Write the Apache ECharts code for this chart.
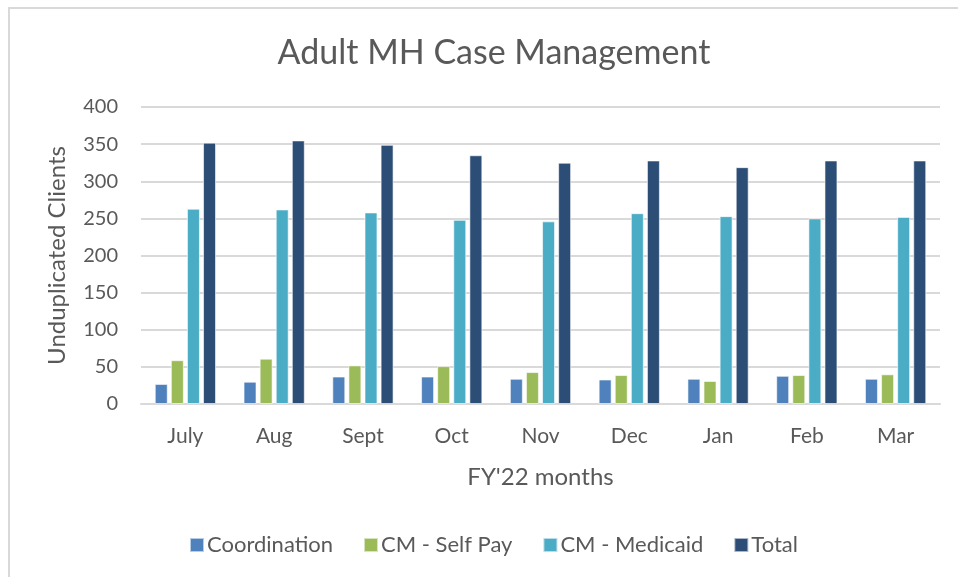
<!DOCTYPE html>
<html>
<head>
<meta charset="utf-8">
<style>
  html, body { margin: 0; padding: 0; background: #fff; }
  #chart { width: 958px; height: 577px; }
</style>
<script src="https://cdn.jsdelivr.net/npm/echarts@6/dist/echarts.min.js"></script>
</head>
<body>
<div id="chart"></div>
<script>
// data
const months = ['July', 'Aug', 'Sept', 'Oct', 'Nov', 'Dec', 'Jan', 'Feb', 'Mar']
const coordination = [27, 30, 37, 37, 34, 33, 34, 38, 34]
const selfPay = [59, 61, 52, 51, 43, 39, 31, 39, 40]
const medicaid = [263, 262, 258, 248, 246, 257, 253, 250, 252]
const total = [352, 355, 349, 335, 325, 328, 319, 328, 328]

const font = 'Lato, "Open Sans", sans-serif'
const textColor = '#595959'

const chart = echarts.init(document.getElementById('chart'))

function bar(name, data, color) {
  return {
    name: name,
    type: 'bar',
    data: data,
    barGap: '24%',
    barCategoryGap: '31%',
    itemStyle: {
      color: color,
      borderColor: 'rgba(255,255,255,0.6)',
      borderWidth: 1
    }
  }
}

chart.setOption({
  animation: false,
  textStyle: { fontFamily: font },
  title: {
    text: 'Adult MH Case Management',
    left: 489,
    top: 31,
    textAlign: 'center',
    textStyle: {
      fontFamily: font,
      fontSize: 34,
      fontWeight: 'normal',
      color: textColor
    }
  },
  graphic: [{
    type: 'rect',
    shape: { x: 9, y: 8, width: 1000, height: 1000 },
    style: { fill: 'none', stroke: '#d9d9d9', lineWidth: 2 },
    silent: true
  }],
  grid: {
    left: 141,
    right: 18,
    top: 107,
    bottom: 173
  },
  legend: {
    bottom: 16,
    left: 184,
    itemWidth: 14,
    itemHeight: 14,
    itemGap: 30,
    icon: 'rect',
    textStyle: { fontFamily: font, fontSize: 22, color: textColor, padding: [0, 0, 0, -2] }
  },
  xAxis: {
    type: 'category',
    data: months,
    name: "FY'22 months",
    nameLocation: 'middle',
    nameGap: 61,
    nameTextStyle: { fontFamily: font, fontSize: 24, color: textColor },
    axisLine: { lineStyle: { color: '#d9d9d9', width: 2 } },
    axisTick: { show: false },
    axisLabel: { fontFamily: font, fontSize: 21, color: textColor, margin: 22 }
  },
  yAxis: {
    type: 'value',
    min: 0,
    max: 400,
    interval: 50,
    name: 'Unduplicated Clients',
    nameLocation: 'middle',
    nameRotate: 90,
    nameGap: 72,
    nameTextStyle: { fontFamily: font, fontSize: 24, color: textColor },
    axisLine: { show: false },
    axisTick: { show: false },
    axisLabel: { fontFamily: font, fontSize: 20, color: textColor, margin: 23 },
    splitLine: { lineStyle: { color: '#d9d9d9', width: 2 } }
  },
  series: [
    bar('Coordination', coordination, '#4f81bd'),
    bar('CM - Self Pay', selfPay, '#9bbb59'),
    bar('CM - Medicaid', medicaid, '#4bacc6'),
    bar('Total', total, '#2c4d75')
  ]
})
</script>
</body>
</html>
